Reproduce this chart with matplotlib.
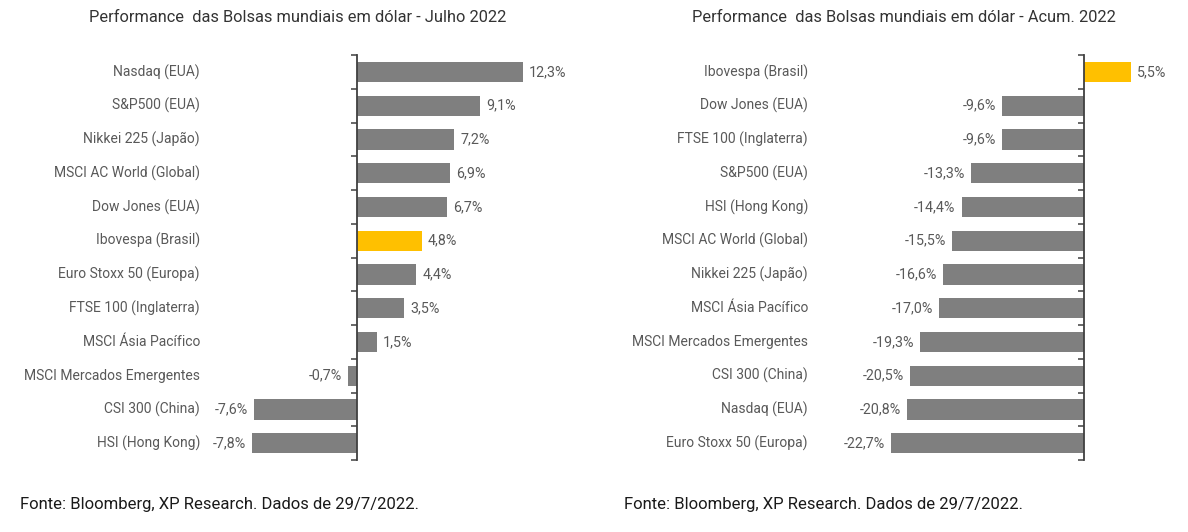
import matplotlib
matplotlib.use("Agg")
import matplotlib.pyplot as plt
from matplotlib.ticker import FixedLocator, NullLocator

plt.rcParams['font.family'] = ['Roboto', 'DejaVu Sans']

# ---- data ----
left_categories = ["Nasdaq (EUA)", "S&P500 (EUA)", "Nikkei 225 (Japão)", "MSCI AC World (Global)",
                   "Dow Jones (EUA)", "Ibovespa (Brasil)", "Euro Stoxx 50 (Europa)", "FTSE 100 (Inglaterra)",
                   "MSCI Ásia Pacífico", "MSCI Mercados Emergentes", "CSI 300 (China)", "HSI (Hong Kong)"]
left_values = [12.3, 9.1, 7.2, 6.9, 6.7, 4.8, 4.4, 3.5, 1.5, -0.7, -7.6, -7.8]

right_categories = ["Ibovespa (Brasil)", "Dow Jones (EUA)", "FTSE 100 (Inglaterra)", "S&P500 (EUA)",
                    "HSI (Hong Kong)", "MSCI AC World (Global)", "Nikkei 225 (Japão)", "MSCI Ásia Pacífico",
                    "MSCI Mercados Emergentes", "CSI 300 (China)", "Nasdaq (EUA)", "Euro Stoxx 50 (Europa)"]
right_values = [5.5, -9.6, -9.6, -13.3, -14.4, -15.5, -16.6, -17.0, -19.3, -20.5, -20.8, -22.7]

left_title = "Performance  das Bolsas mundiais em dólar - Julho 2022"
right_title = "Performance  das Bolsas mundiais em dólar - Acum. 2022"
footer = "Fonte: Bloomberg, XP Research. Dados de 29/7/2022."
highlight = "Ibovespa (Brasil)"

GRAY = "#7f7f7f"
YELLOW = "#FFC000"
TXT = "#595959"

W, H = 1188, 532
fig = plt.figure(figsize=(W / 100, H / 100), dpi=100)
fig.patch.set_facecolor("white")


def panel(px_left, px_right, px_zero, px_per_unit, label_px, cats, vals, title, title_cx):
    top_px, bot_px = 55, 460
    ax = fig.add_axes([px_left / W, (H - bot_px) / H, (px_right - px_left) / W, (bot_px - top_px) / H])
    xmin = -(px_zero - px_left) / px_per_unit
    xmax = (px_right - px_zero) / px_per_unit
    ax.set_xlim(xmin, xmax)
    n = len(cats)
    ax.set_ylim(n - 0.5, -0.5)
    ys = list(range(n))
    colors = [YELLOW if c == highlight else GRAY for c in cats]
    ax.barh(ys, vals, height=0.6, color=colors, edgecolor="none", zorder=2)
    for s in ["top", "right", "bottom"]:
        ax.spines[s].set_visible(False)
    ax.spines["left"].set_position(("data", 0))
    ax.spines["left"].set_color("#404040")
    ax.spines["left"].set_linewidth(1.3)
    ax.spines["left"].set_zorder(3)
    ax.xaxis.set_major_locator(NullLocator())
    ax.yaxis.set_major_locator(NullLocator())
    ax.yaxis.set_minor_locator(FixedLocator([i - 0.5 for i in range(n + 1)]))
    ax.tick_params(axis="y", which="minor", direction="out", length=4, width=1.1, color="#404040")
    ax.patch.set_alpha(0)
    label_frac = (label_px - px_left) / (px_right - px_left)
    for y, c, v in zip(ys, cats, vals):
        ax.text(label_frac, y, c, transform=ax.get_yaxis_transform(), ha="right", va="center",
                fontsize=10, color=TXT)
        lab = f"{v:.1f}".replace(".", ",") + "%"
        off = 6 / px_per_unit
        if v >= 0:
            ax.text(v + off, y, lab, ha="left", va="center", fontsize=10.3, color=TXT)
        else:
            ax.text(v - off, y, lab, ha="right", va="center", fontsize=10.3, color=TXT)
    fig.text(title_cx / W, 1 - 18 / H, title, ha="center", va="center", fontsize=11.8, color="#333333")
    return ax


panel(210, 570, 357, 13.5, 200, left_categories, left_values, left_title, 298)
panel(815, 1165, 1084, 8.5, 808, right_categories, right_values, right_title, 904)

fig.text(20 / W, 1 - 504 / H, footer, ha="left", va="center", fontsize=12, color="#1a1a1a")
fig.text(624 / W, 1 - 504 / H, footer, ha="left", va="center", fontsize=12, color="#1a1a1a")

fig.savefig("out.png", dpi=100, facecolor="white")
